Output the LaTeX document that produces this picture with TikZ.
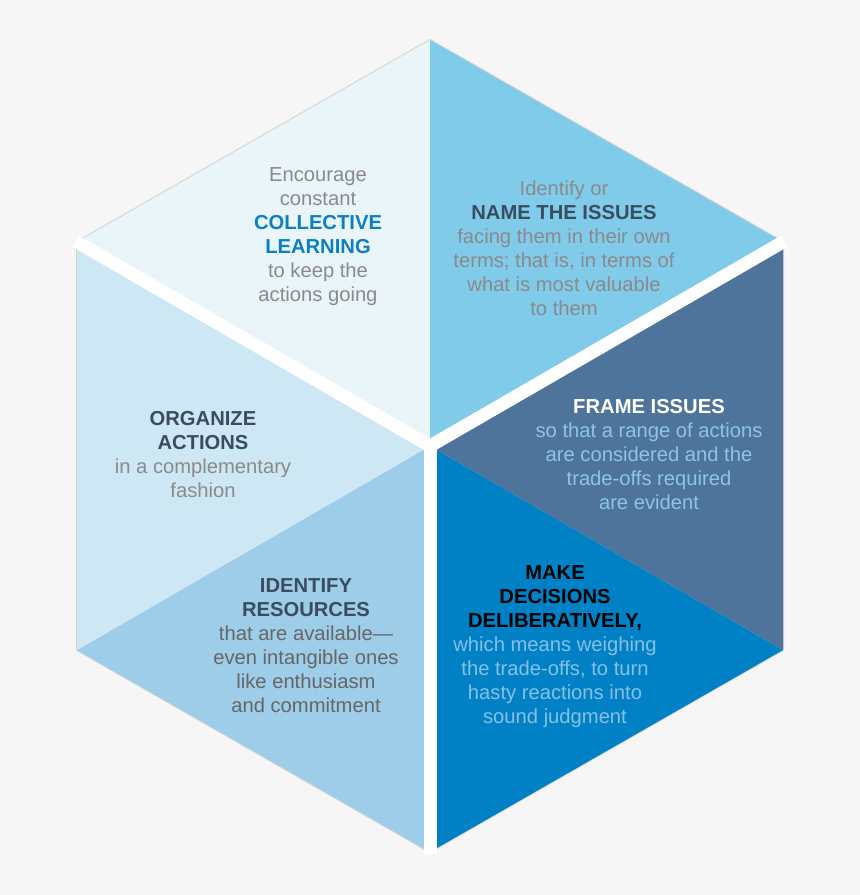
\documentclass[tikz,border=0pt]{standalone}
\usepackage{fontspec}
\setmainfont{Liberation Sans}
\usetikzlibrary{calc}
\definecolor{bg}{HTML}{F6F6F6}
\definecolor{cTL}{HTML}{EAF5FA}
\definecolor{cTR}{HTML}{80CBEA}
\definecolor{cR}{HTML}{4F749C}
\definecolor{cBR}{HTML}{0081C6}
\definecolor{cBL}{HTML}{9DCDE9}
\definecolor{cL}{HTML}{CDE7F5}
\definecolor{greytxt}{HTML}{8A8A8A}
\definecolor{darkgrey}{HTML}{666666}
\definecolor{slate}{HTML}{3B4B60}
\definecolor{collblue}{HTML}{0B7FC3}
\definecolor{paleblue}{HTML}{8EC4E6}
\definecolor{paleblue2}{HTML}{86C0E6}
\definecolor{edge}{HTML}{D4D4D4}
\begin{document}
\begin{tikzpicture}[x=1pt,y=-1pt,
  txt/.style={align=center,inner sep=0pt,font=\fontsize{20.2}{24}\selectfont},
  band/.style={white,line width=13pt,line cap=butt}]
\useasboundingbox (0,0) rectangle (860,895);
\fill[bg] (0,0) rectangle (860,895);
\coordinate (T) at (430,40);
\coordinate (UR) at (783,242);
\coordinate (LR) at (783,650);
\coordinate (B) at (430,852);
\coordinate (LL) at (77,650);
\coordinate (UL) at (77,242);
\coordinate (C) at (430,446);
\draw[edge,line width=2pt,line join=miter] (T) -- (UR) -- (LR) -- (B) -- (LL) -- (UL) -- cycle;
\fill[cTL] (T) -- (UL) -- (C) -- cycle;
\fill[cTR] (T) -- (UR) -- (C) -- cycle;
\fill[cR] (UR) -- (LR) -- (C) -- cycle;
\fill[cBR] (LR) -- (B) -- (C) -- cycle;
\fill[cBL] (B) -- (LL) -- (C) -- cycle;
\fill[cL] (LL) -- (UL) -- (C) -- cycle;
\coordinate (ULx) at ($(C)!1.004!(UL)$);
\coordinate (URx) at ($(C)!1.004!(UR)$);
\coordinate (Bx) at ($(C)!1.006!(B)$);
\draw[band] (C) -- (ULx);
\draw[band] (C) -- (URx);
\draw[band] (C) -- (Bx);
\node[txt,text=greytxt] (tl) at (318,237) {Encourage\\constant\\{\bfseries\color{collblue}COLLECTIVE}\\{\bfseries\color{collblue}LEARNING}\\to keep the\\actions going};
\node[txt,text=greytxt] (tr) at (564,248) {Identify or\\{\bfseries\color{slate}NAME THE ISSUES}\\facing them in their own\\terms; that is, in terms of\\what is most valuable\\to them};
\node[txt,text=paleblue] (r) at (649,455) {{\bfseries\color{white}FRAME ISSUES}\\so that a range of actions\\are considered and the\\trade-offs required\\are evident};
\node[txt,text=paleblue2] (br) at (555,647) {{\bfseries\color{black}MAKE}\\{\bfseries\color{black}DECISIONS}\\{\bfseries\color{black}DELIBERATIVELY,}\\which means weighing\\the trade-offs, to turn\\hasty reactions into\\sound judgment};
\node[txt,text=greytxt] (l) at (203,455) {{\bfseries\color{slate}ORGANIZE}\\{\bfseries\color{slate}ACTIONS}\\in a complementary\\fashion};
\node[txt,text=darkgrey] (bl) at (306,646) {{\bfseries\color{slate}IDENTIFY}\\{\bfseries\color{slate}RESOURCES}\\that are available—\\even intangible ones\\like enthusiasm\\and commitment};
\end{tikzpicture}
\end{document}
